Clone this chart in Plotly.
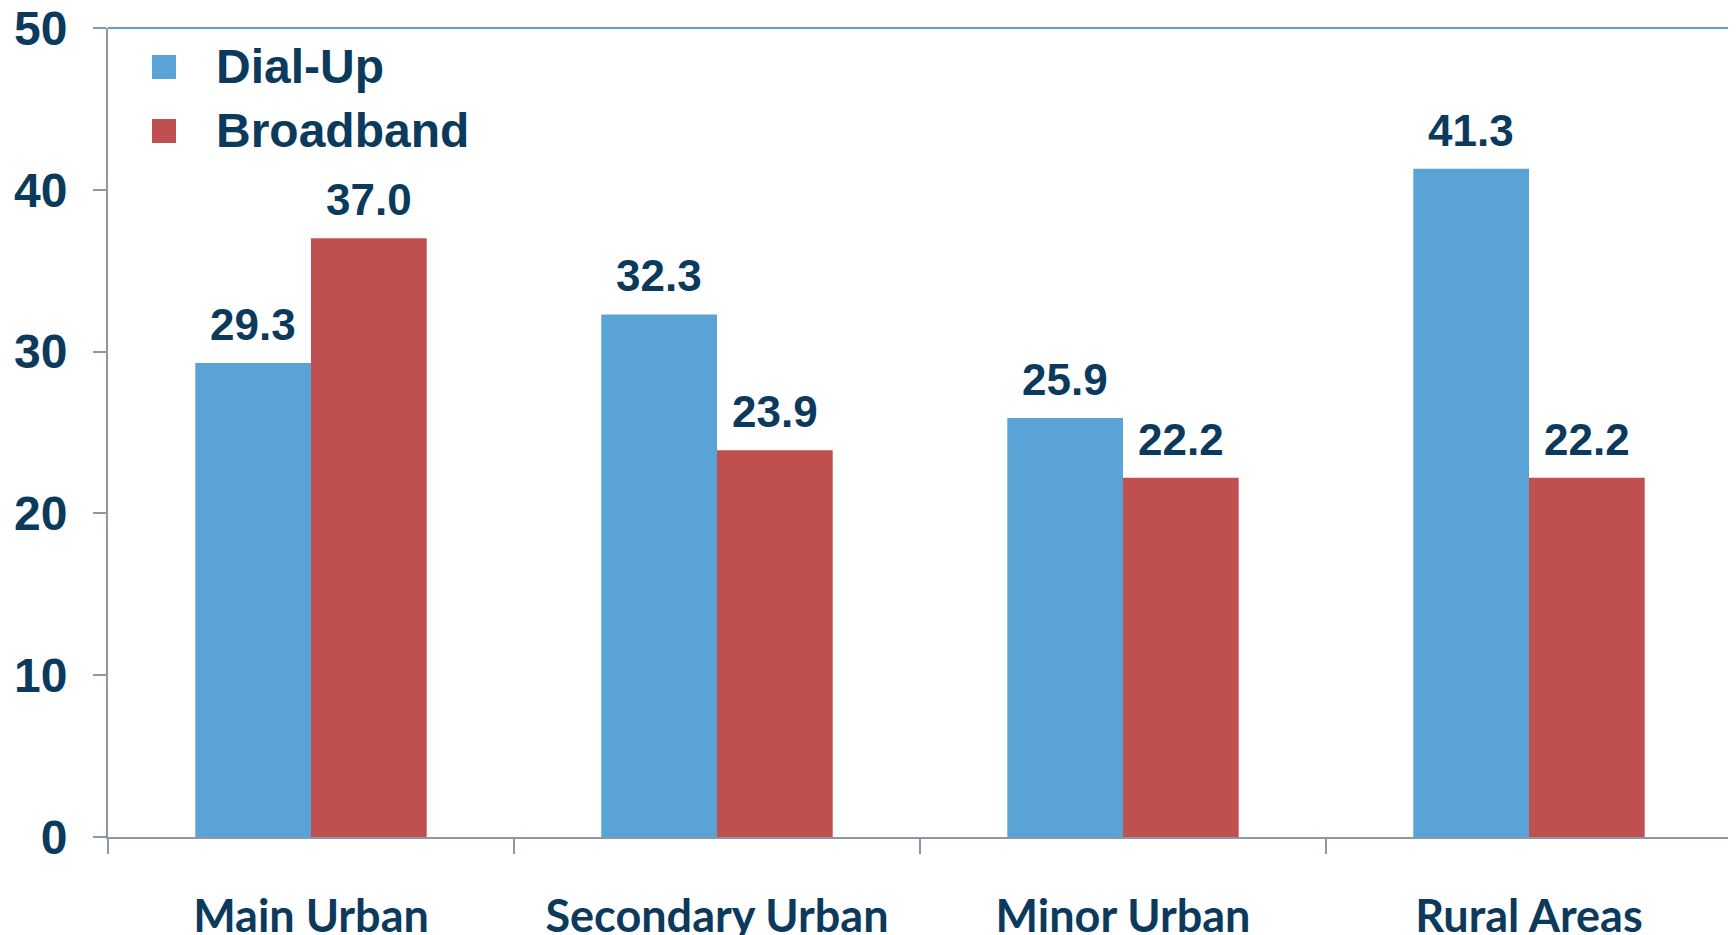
import plotly.graph_objects as go

categories = ["Main Urban", "Secondary Urban", "Minor Urban", "Rural Areas"]
dialup = [29.3, 32.3, 25.9, 41.3]
broadband = [37.0, 23.9, 22.2, 22.2]
series_names = ["Dial-Up", "Broadband"]
colors = ["#5AA3D6", "#C0504F"]
y_ticks = [0, 10, 20, 30, 40, 50]

navy = "#0B3A5C"
gray = "#8E98A3"
bold_font = "Liberation Sans, Arial, sans-serif"

# page body adds an 8px offset; size the figure to fill the remaining window
OFF = 8
W, H = 1736 - OFF, 935 - OFF
ML, MR, MT, MB = 100, 4, 20, 98
PW, PH = W - ML - MR, H - MT - MB


def px_x(p):  # screen pixel -> paper x
    return (p - OFF - ML) / PW


def px_y(p):  # screen pixel -> paper y
    return (H - MB - (p - OFF)) / PH


fig = go.Figure()
for name, vals, col in zip(series_names, [dialup, broadband], colors):
    fig.add_trace(go.Bar(x=categories, y=vals, name=name, marker_color=col,
                         marker_line_width=0, showlegend=False))

# data labels
bar_px = 116
for i, vals in enumerate([dialup, broadband]):
    shift = -bar_px / 2 if i == 0 else bar_px / 2
    for c, v in zip(categories, vals):
        fig.add_annotation(x=c, y=v, text=f"{v:.1f}", showarrow=False,
                           xshift=shift, yshift=12, yanchor="bottom",
                           font=dict(family=bold_font, size=44, color=navy, weight="bold"))

# manual legend (large square swatches)
legend_rows = [67, 131]
for name, col, yc in zip(series_names, colors, legend_rows):
    fig.add_shape(type="rect", xref="paper", yref="paper",
                  x0=px_x(152), x1=px_x(176), y0=px_y(yc + 12), y1=px_y(yc - 12),
                  fillcolor=col, line_width=0)
    fig.add_annotation(xref="paper", yref="paper", x=px_x(214), y=px_y(yc),
                       xanchor="left", yanchor="middle", text=name, showarrow=False,
                       font=dict(family=bold_font, size=48, color=navy, weight="bold"))

fig.update_layout(
    width=W, height=H,
    margin=dict(l=ML, r=MR, t=MT, b=MB),
    paper_bgcolor="white", plot_bgcolor="white",
    barmode="group", bargap=0.43, bargroupgap=0,
    showlegend=False,
    xaxis=dict(showline=True, linecolor=gray, linewidth=2, ticks="outside",
               tickson="boundaries", ticklen=15, tickwidth=2, tickcolor=gray,
               showgrid=False, ticklabelstandoff=39, automargin=False,
               ticklabeloverflow="allow",
               tickfont=dict(family="Lato, Carlito, sans-serif", size=45, color=navy, weight="bold")),
    yaxis=dict(range=[0, 50], tickvals=y_ticks, showline=True, linecolor=gray, linewidth=2,
               ticks="outside", ticklen=13, tickwidth=2, tickcolor=gray, showgrid=False,
               zeroline=False, ticklabelstandoff=16, automargin=False,
               ticklabeloverflow="allow",
               tickfont=dict(family=bold_font, size=48, color=navy, weight="bold")),
)

# blue border at top and right of plot area
fig.add_shape(type="line", xref="paper", yref="paper", x0=0, x1=1, y0=1, y1=1,
              line=dict(color="#5AA3D6", width=2))
fig.add_shape(type="line", xref="paper", yref="paper", x0=1, x1=1, y0=0, y1=1,
              line=dict(color="#5AA3D6", width=2))

fig.write_html("out.html")
